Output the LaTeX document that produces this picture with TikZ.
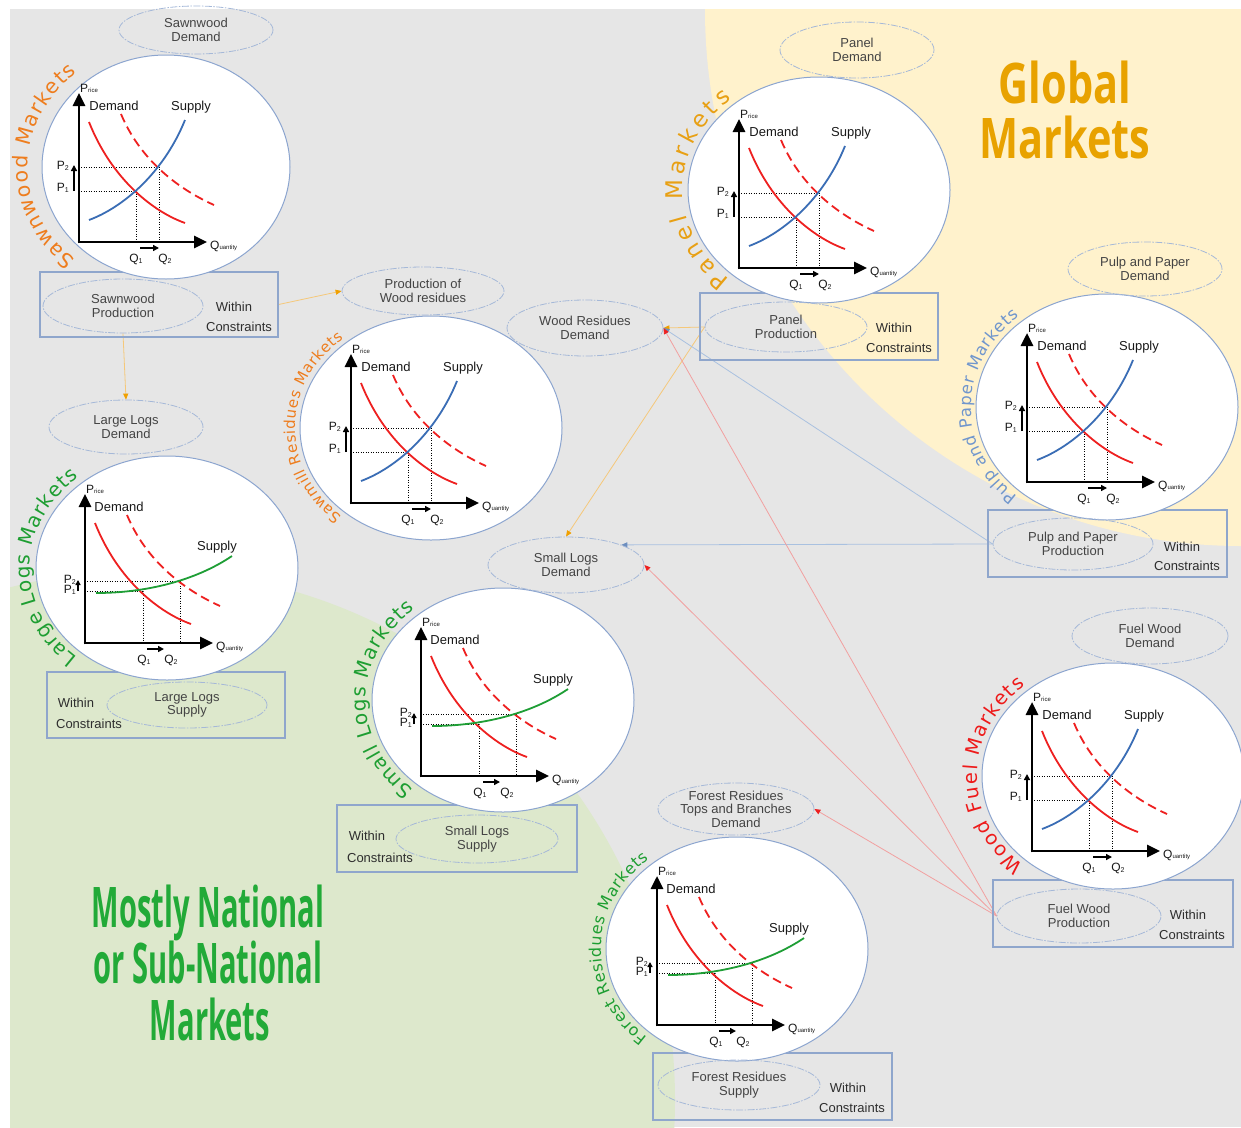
\documentclass[tikz,border=0pt]{standalone}
\usepackage{fontspec}
\setmainfont{Liberation Sans}
\newfontfamily\curvefont{DejaVu Sans}
\newfontfamily\globfont[FakeStretch=0.74]{Open Sans}
\newfontfamily\natfont[FakeStretch=0.52]{Open Sans}
\usetikzlibrary{shapes.geometric,arrows.meta,decorations.text}
\pgfdeclarelayer{bglayer}
\pgfdeclarelayer{connlayer}
\pgfsetlayers{bglayer,connlayer,main}

\definecolor{bggray}{HTML}{E6E6E6}
\definecolor{yellowbg}{HTML}{FFF2CC}
\definecolor{greenbg}{HTML}{DDE8CC}
\definecolor{circblue}{HTML}{8CA5CF}
\definecolor{ovalblue}{HTML}{A5B8D8}
\definecolor{boxblue}{HTML}{8FA6CC}
\definecolor{ovaltext}{HTML}{444444}
\definecolor{wctextc}{HTML}{2E2E2E}
\definecolor{chartred}{HTML}{EE2020}
\definecolor{chartblue}{HTML}{3A6DB5}
\definecolor{chartgreen}{HTML}{1E9E35}
\definecolor{orangeT}{HTML}{EE7D1E}
\definecolor{panelT}{HTML}{E8A014}
\definecolor{pulpT}{HTML}{7096CC}
\definecolor{greenT}{HTML}{1E9E32}
\definecolor{redT}{HTML}{EE1A1A}
\definecolor{globC}{HTML}{E8A200}
\definecolor{natC}{HTML}{22AA38}
\definecolor{orangeL}{HTML}{F5C87A}
\definecolor{orangeD}{HTML}{F0A000}
\definecolor{redL}{HTML}{F2A0A0}
\definecolor{redD}{HTML}{EE2020}
\definecolor{blueL}{HTML}{A9C1E0}
\definecolor{blueD}{HTML}{6C8EBF}

\newcommand\fsz[1]{\fontsize{#1}{#1}\selectfont}
\newcommand\subs[1]{\raisebox{-1.8pt}{\fsz{7}#1}}

\tikzset{
  chartcirc/.style={ellipse, draw=circblue, fill=white, line width=1pt, inner sep=0pt},
  oval/.style={ellipse, draw=ovalblue, line width=0.8pt, dash pattern=on 7pt off 1.5pt on 1.5pt off 1.5pt, inner sep=0pt},
  ovtext/.style={align=center, text=ovaltext, inner sep=0pt, font=\fontsize{13}{13.5}\selectfont},
  wcbox/.style={draw=boxblue, line width=1.2pt, inner sep=0pt},
  wctext/.style={inner sep=0pt, text=wctextc, font=\fsz{13}},
  axisarr/.style={line width=2.8pt, -{Triangle[length=13pt,width=12pt]}},
  parr/.style={line width=1.8pt, -{Triangle[length=6pt,width=6pt]}},
  qarr/.style={line width=1.5pt, -{Triangle[length=6pt,width=6pt]}},
  dotl/.style={line width=0.8pt, dash pattern=on 1pt off 1.5pt},
  demc/.style={draw=chartred, line width=1.8pt},
  demd/.style={demc, dash pattern=on 9pt off 5pt},
  supb/.style={draw=chartblue, line width=1.8pt},
  supg/.style={draw=chartgreen, line width=1.8pt},
  clbl/.style={inner sep=0pt, font=\fsz{12}, text=black!90},
  dlbl/.style={inner sep=0pt, font=\fsz{13}, text=black!90},
  connO/.style={draw=orangeL, line width=0.8pt, -{Triangle[length=6pt,width=5pt,color=orangeD]}},
  connB/.style={draw=blueL, line width=0.8pt, -{Triangle[length=6pt,width=5pt,color=blueD]}},
  connR/.style={draw=redL, line width=0.8pt, -{Triangle[length=6pt,width=5pt,color=redD]}},
  globst/.style={inner sep=0pt, text=globC, font=\globfont\bfseries\fsz{56}},
  natst/.style={inner sep=0pt, text=natC, font=\natfont\bfseries\fsz{56}},
}

% blue-supply chart: #1,#2 = axis origin (px), #3 = name prefix
\newcommand\bluechart[3]{%
\begin{scope}[shift={(#1,-#2)}]
\draw[dotl] (2,75) -- (80,75) -- (80,0);
\draw[dotl] (2,51) -- (57,51) -- (57,0);
\draw[demc] (10,120) .. controls (33,62) and (75,30) .. (106,19);
\draw[demd] (42,128) .. controls (60,85) and (95,55) .. (135,37);
\draw[supb] (10,22) .. controls (45,35) and (85,70) .. (106,122);
\draw[axisarr] (0,-1.4) -- (0,149);
\draw[axisarr] (-1.4,0) -- (128,0);
\draw[parr] (-5,51) -- (-5,77);
\draw[qarr] (61,-6) -- (80,-6);
\node[clbl,anchor=base west] (#3pr) at (1,150) {P{\fsz{6}rice}};
\node[dlbl,anchor=base] (#3dm) at (35,132) {Demand};
\node[dlbl,anchor=base] (#3sp) at (112,132) {Supply};
\node[clbl,anchor=base east] (#3ptwo) at (-10,73) {P\subs{2}};
\node[clbl,anchor=base east] (#3pone) at (-10,51) {P\subs{1}};
\node[clbl,anchor=base] (#3qone) at (57,-20) {Q\subs{1}};
\node[clbl,anchor=base] (#3qtwo) at (86,-20) {Q\subs{2}};
\node[clbl,anchor=base west] (#3qu) at (131,-7) {Q{\fsz{6}uantity}};
\end{scope}}

% green-supply chart
\newcommand\greenchart[3]{%
\begin{scope}[shift={(#1,-#2)}]
\draw[dotl] (2,62) -- (95,62) -- (95,0);
\draw[dotl] (2,52) -- (58,52) -- (58,0);
\draw[demc] (10,120) .. controls (33,62) and (75,30) .. (106,19);
\draw[demd] (42,128) .. controls (60,85) and (95,55) .. (135,37);
\draw[supg] (11,50) .. controls (60,50) and (110,62) .. (147,87);
\draw[axisarr] (0,-1.4) -- (0,149);
\draw[axisarr] (-1.4,0) -- (128,0);
\draw[line width=1.4pt, -{Triangle[length=5pt,width=5pt]}] (-7,52) -- (-7,63);
\draw[qarr] (62,-6) -- (79,-6);
\node[clbl,anchor=base west] (#3pr) at (1,150) {P{\fsz{6}rice}};
\node[dlbl,anchor=base] (#3dm) at (34,132) {Demand};
\node[dlbl,anchor=base] (#3sp) at (132,93) {Supply};
\node[clbl,anchor=base east] (#3ptwo) at (-9,60) {P\subs{2}};
\node[clbl,anchor=base east] (#3pone) at (-9,50) {P\subs{1}};
\node[clbl,anchor=base] (#3qone) at (59,-20) {Q\subs{1}};
\node[clbl,anchor=base] (#3qtwo) at (86,-20) {Q\subs{2}};
\node[clbl,anchor=base west] (#3qu) at (131,-7) {Q{\fsz{6}uantity}};
\end{scope}}

% curved market label: cx cy Rx Ry size colour text
\newcommand\curvetext[7]{%
\path[decorate,decoration={text along path, text={|\curvefont\fsz{#5}|#7}, text color=#6, text align={fit to path}}]
  ([shift={(229:#3 and #4)}]#1,-#2) arc[start angle=229, end angle=130, x radius=#3, y radius=#4];}

\begin{document}
\begin{tikzpicture}[x=1pt,y=1pt]
\useasboundingbox (0,0) rectangle (1241,-1127);

\begin{pgfonlayer}{bglayer}
\fill[bggray] (10,-9) rectangle (1241,-1127);
\begin{scope}
\clip (10,-9) rectangle (1241,-1127);
\fill[yellowbg] (1241,-10) circle[radius=536];
\fill[greenbg] (145,-1100) circle[radius=530];
\end{scope}
\end{pgfonlayer}

% constraint boxes
\node[wcbox, minimum width=238pt, minimum height=65pt] (sawbox) at (159,-304.5) {};
\node[wcbox, minimum width=238pt, minimum height=67pt] (panelbox) at (819,-326.5) {};
\node[wcbox, minimum width=239pt, minimum height=67pt] (pulpbox) at (1107.5,-543.5) {};
\node[wcbox, minimum width=238pt, minimum height=66pt] (llbox) at (166,-705) {};
\node[wcbox, minimum width=240pt, minimum height=67pt] (slbox) at (457,-838.5) {};
\node[wcbox, minimum width=239pt, minimum height=67pt] (frbox) at (772.5,-1086.5) {};
\node[wcbox, minimum width=240pt, minimum height=67pt] (fwbox) at (1113,-913.5) {};

% market circles
\node[chartcirc, minimum width=248pt, minimum height=224pt] (csaw) at (166,-167) {};
\node[chartcirc, minimum width=262pt, minimum height=226pt] (cpanel) at (819,-190) {};
\node[chartcirc, minimum width=262pt, minimum height=224pt] (csawmill) at (431,-428) {};
\node[chartcirc, minimum width=262pt, minimum height=226pt] (cpulp) at (1107,-407) {};
\node[chartcirc, minimum width=262pt, minimum height=224pt] (clarge) at (167,-568) {};
\node[chartcirc, minimum width=262pt, minimum height=224pt] (csmall) at (503,-700) {};
\node[chartcirc, minimum width=262pt, minimum height=226pt] (cfuel) at (1113,-776) {};
\node[chartcirc, minimum width=262pt, minimum height=224pt] (cforest) at (737,-949) {};

% charts
\bluechart{79}{242}{saw}
\bluechart{739}{268}{pan}
\bluechart{351}{503}{smr}
\bluechart{1027}{482}{pulp}
\greenchart{85}{643}{ll}
\greenchart{421}{776}{sl}
\bluechart{1032}{851}{fw}
\greenchart{657}{1025}{fr}

% ovals
\node[oval, minimum width=154pt, minimum height=48pt, label={[ovtext]center:{Sawnwood\\Demand}}] (sawdem) at (196,-30) {};
\node[oval, minimum width=160pt, minimum height=54pt, label={[ovtext]center:{Sawnwood\\Production}}] (sawE) at (123,-306) {};
\node[oval, minimum width=162pt, minimum height=48pt, label={[ovtext]center:{Production of\\Wood residues}}] (prodres) at (423,-291) {};
\node[oval, minimum width=156pt, minimum height=56pt, label={[ovtext]center:{Wood Residues\\Demand}}] (wrdem) at (585,-328) {};
\node[oval, minimum width=154pt, minimum height=56pt, label={[ovtext]center:{Panel\\Demand}}] (paneldem) at (857,-50) {};
\node[oval, minimum width=162pt, minimum height=50pt, label={[ovtext]center:{Panel\\Production}}] (panelE) at (786,-327) {};
\node[oval, minimum width=154pt, minimum height=54pt, label={[ovtext]center:{Pulp and Paper\\Demand}}] (pulpdem) at (1145,-269) {};
\node[oval, minimum width=160pt, minimum height=52pt, label={[ovtext]center:{Pulp and Paper\\Production}}] (pulpE) at (1073,-544) {};
\node[oval, minimum width=154pt, minimum height=54pt, label={[ovtext]center:{Large Logs\\Demand}}] (lldem) at (126,-427) {};
\node[oval, minimum width=160pt, minimum height=46pt, label={[ovtext]center:{Large Logs\\Supply}}] (llE) at (187,-705) {};
\node[oval, minimum width=156pt, minimum height=56pt, label={[ovtext]center:{Small Logs\\Demand}}] (sldem) at (566,-565) {};
\node[oval, minimum width=162pt, minimum height=48pt, label={[ovtext]center:{Small Logs\\Supply}}] (slE) at (477,-839) {};
\node[oval, minimum width=156pt, minimum height=52pt, label={[ovtext]center:{Forest Residues\\Tops and Branches\\Demand}}] (frdem) at (736,-809) {};
\node[oval, minimum width=162pt, minimum height=50pt, label={[ovtext]center:{Forest Residues\\Supply}}] (frE) at (739,-1085) {};
\node[oval, minimum width=156pt, minimum height=56pt, label={[ovtext]center:{Fuel Wood\\Demand}}] (fwdem) at (1150,-636) {};
\node[oval, minimum width=164pt, minimum height=54pt, label={[ovtext]center:{Fuel Wood\\Production}}] (fwE) at (1079,-916) {};

% within constraints texts
\node[wctext] (sawW) at (234,-307) {Within};
\node[wctext] (sawC) at (239,-327) {Constraints};
\node[wctext] (panW) at (894,-328) {Within};
\node[wctext] (panC) at (899,-348) {Constraints};
\node[wctext] (pulpW) at (1182,-547) {Within};
\node[wctext] (pulpC) at (1187,-566) {Constraints};
\node[wctext] (llW) at (76,-703) {Within};
\node[wctext] (llC) at (89,-724) {Constraints};
\node[wctext] (slW) at (367,-836) {Within};
\node[wctext] (slC) at (380,-858) {Constraints};
\node[wctext] (frW) at (848,-1088) {Within};
\node[wctext] (frC) at (852,-1108) {Constraints};
\node[wctext] (fwW) at (1188,-915) {Within};
\node[wctext] (fwC) at (1192,-935) {Constraints};

% connectors
\begin{pgfonlayer}{connlayer}
\draw[connO] (sawbox.east) -- (prodres.west);
\draw[connO] (sawE.south) -- (lldem.north);
\draw[connO] (panelE.west) -- (wrdem.east);
\draw[connO] (panelE.west) -- (sldem.north);
\draw[connB] (pulpE.west) -- (sldem.20);
\draw[connB] (pulpE.west) -- (wrdem.east);
\draw[connR] (fwE.west) -- (wrdem.east);
\draw[connR] (fwE.west) -- (sldem.east);
\draw[connR] (fwE.west) -- (frdem.east);
\end{pgfonlayer}

% curved market names
\curvetext{166}{167}{138}{123}{20.5}{orangeT}{Sawnwood Markets}
\curvetext{819}{190}{136}{118}{23}{panelT}{Panel Markets}
\curvetext{431}{428}{136}{117}{15}{orangeT}{Sawmill Residues Markets}
\curvetext{1107}{407}{136}{118}{16.5}{pulpT}{Pulp and Paper Markets}
\curvetext{167}{568}{137}{118}{20}{greenT}{Large Logs Markets}
\curvetext{503}{700}{137}{118}{20}{greenT}{Small Logs Markets}
\curvetext{1113}{776}{136}{118}{19.5}{redT}{Wood Fuel Markets}
\curvetext{737}{949}{136}{117}{16}{greenT}{Forest Residues Markets}

% region titles
\node[globst, anchor=base] (globone) at (1065,-103) {Global};
\node[globst, anchor=base] (globtwo) at (1065,-158) {Markets};
\node[natst, anchor=base] (natone) at (208,-927) {Mostly National};
\node[natst, anchor=base] (nattwo) at (208,-983) {or Sub-National};
\node[natst, anchor=base] (natthree) at (210,-1040) {Markets};
\end{tikzpicture}
\end{document}
